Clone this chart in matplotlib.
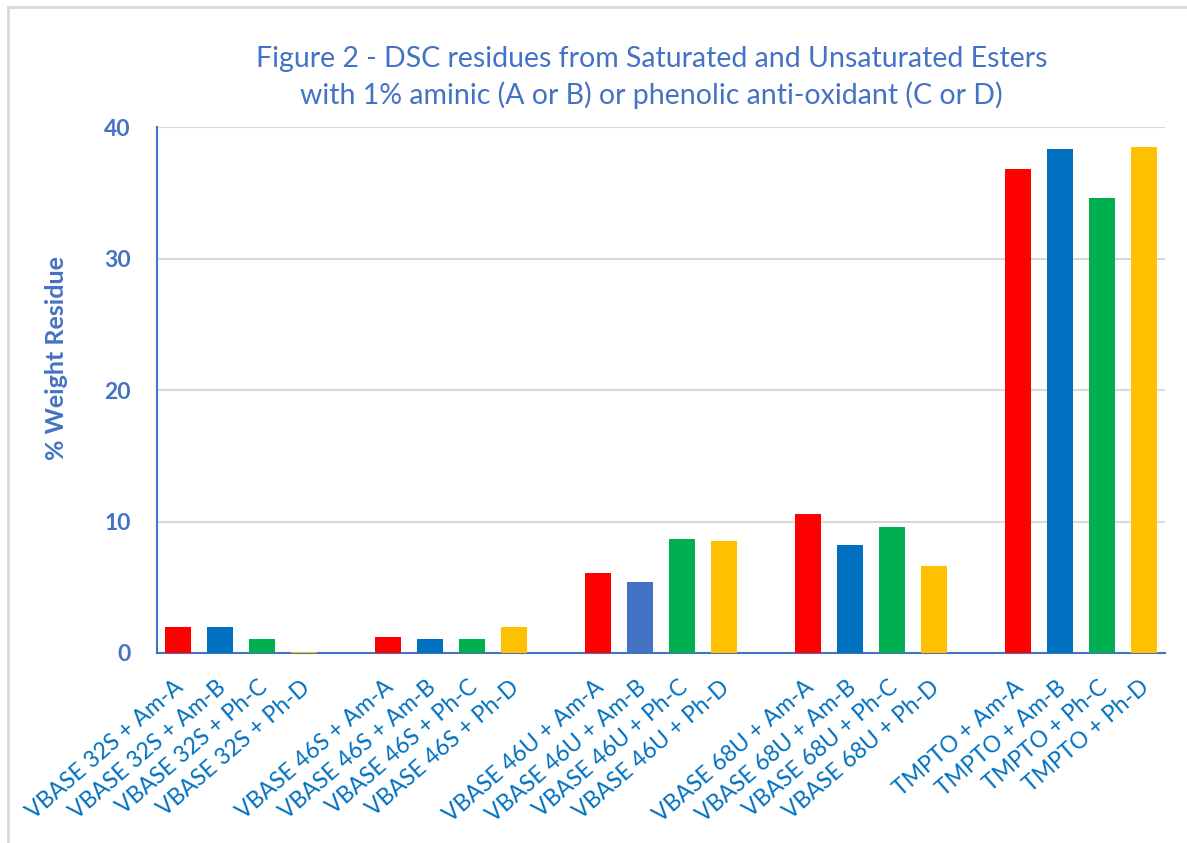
import matplotlib.pyplot as plt
from matplotlib.patches import Rectangle

# data
groups = ['VBASE 32S', 'VBASE 46S', 'VBASE 46U', 'VBASE 68U', 'TMPTO']
additives = ['Am-A', 'Am-B', 'Ph-C', 'Ph-D']
vbase32s = [2.0, 2.0, 1.1, 0.1]
vbase46s = [1.2, 1.1, 1.1, 2.0]
vbase46u = [6.1, 5.4, 8.7, 8.5]
vbase68u = [10.6, 8.2, 9.6, 6.6]
tmpto = [36.8, 38.3, 34.6, 38.5]
values = [vbase32s, vbase46s, vbase46u, vbase68u, tmpto]

add_colors = ['#FF0000', '#0070C0', '#00B050', '#FFC000']
odd_bar_color = '#4472C4'  # VBASE 46U + Am-B is drawn in a different blue

axis_blue = '#4472C4'
label_blue = '#0070C0'
font = 'Lato'

fig = plt.figure(figsize=(11.87, 8.43), dpi=100)
ax = fig.add_axes([0.1323, 0.2254, 0.8492, 0.6239])

pos = []
labels = []
for g, (grp, vals) in enumerate(zip(groups, values)):
    for i, (add, v) in enumerate(zip(additives, vals)):
        x = g * 5 + i
        c = add_colors[i]
        if grp == 'VBASE 46U' and add == 'Am-B':
            c = odd_bar_color
        ax.bar(x, v, width=0.64, color=c, zorder=3)
        pos.append(x)
        labels.append(f'{grp} + {add}')

ax.set_xlim(-0.5, 23.5)
ax.set_ylim(0, 40)
ax.set_yticks([0, 10, 20, 30, 40])
ax.yaxis.grid(True, color='#D9D9D9', linewidth=1.5, zorder=0)
ax.set_axisbelow(True)

for s in ['top', 'right']:
    ax.spines[s].set_visible(False)
for s in ['left', 'bottom']:
    ax.spines[s].set_color(axis_blue)
    ax.spines[s].set_linewidth(1.5)

ax.tick_params(axis='both', length=0)
ax.tick_params(axis='y', pad=19)
for t in ax.get_yticklabels():
    t.set_fontfamily(font)
    t.set_fontweight('bold')
    t.set_fontsize(16.5)
    t.set_color(axis_blue)

ax.set_xticks([p - 0.1 for p in pos])
ax.set_xticklabels(labels, rotation=41, ha='right', rotation_mode='anchor',
                   fontfamily=font, fontsize=16.5, color=label_blue)
ax.tick_params(axis='x', pad=17)

ax.set_ylabel('% Weight Residue', fontfamily=font, fontweight='bold',
              fontsize=18, color=axis_blue)
ax.yaxis.set_label_coords(-0.088, 0.56)

fig.text(0.549, 0.908, 'Figure 2 - DSC residues from Saturated and Unsaturated Esters\n'
         'with 1% aminic (A or B) or phenolic anti-oxidant (C or D)',
         ha='center', va='center', fontfamily=font, fontsize=20.5,
         color=axis_blue, linespacing=1.45)

# light frame around the chart
fig.patches.append(Rectangle((8 / 1187, -0.05), 1.1, 1 - 7 / 843 + 0.05,
                             transform=fig.transFigure, fill=False,
                             edgecolor='#D9D9D9', linewidth=2))

fig.savefig('out.png', dpi=100)
